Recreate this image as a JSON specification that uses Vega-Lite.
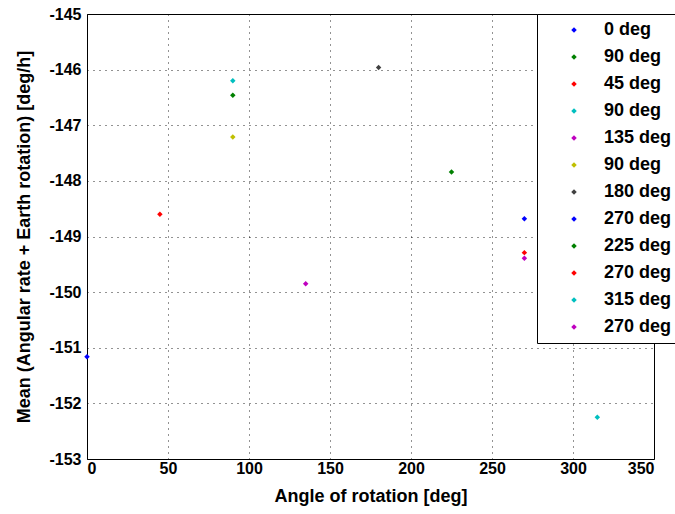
{
  "$schema": "https://vega.github.io/schema/vega-lite/v6.json",
  "autosize": {"type": "none"},
  "width": 567,
  "height": 445,
  "padding": {"left": 87, "top": 14, "right": 21, "bottom": 55},
  "background": "white",
  "config": {
    "view": {"stroke": "#000000", "strokeWidth": 1},
    "font": "Arial",
    "axis": {
      "labelFont": "Arial",
      "labelFontWeight": "bold",
      "labelFontSize": 16,
      "labelColor": "#000000",
      "titleFont": "Arial",
      "titleFontWeight": "bold",
      "titleFontSize": 18,
      "titleColor": "#000000",
      "domain": false,
      "ticks": false,
      "grid": true,
      "gridColor": "#000000",
      "gridDash": [1, 5],
      "gridOpacity": 0.85,
      "gridWidth": 1
    }
  },
  "data": {
    "values": [
      {"angle": 0, "mean": -151.16, "series": "01 0 deg"},
      {"angle": 90, "mean": -146.46, "series": "02 90 deg"},
      {"angle": 45, "mean": -148.6, "series": "03 45 deg"},
      {"angle": 90, "mean": -146.2, "series": "04 90 deg"},
      {"angle": 135, "mean": -149.85, "series": "05 135 deg"},
      {"angle": 90, "mean": -147.21, "series": "06 90 deg"},
      {"angle": 180, "mean": -145.96, "series": "07 180 deg"},
      {"angle": 270, "mean": -148.68, "series": "08 270 deg"},
      {"angle": 225, "mean": -147.84, "series": "09 225 deg"},
      {"angle": 270, "mean": -149.29, "series": "10 270 deg"},
      {"angle": 315, "mean": -152.25, "series": "11 315 deg"},
      {"angle": 270, "mean": -149.39, "series": "12 270 deg"}
    ]
  },
  "mark": {"type": "point", "shape": "diamond", "filled": true, "size": 30, "opacity": 1},
  "encoding": {
    "x": {
      "field": "angle", "type": "quantitative",
      "scale": {"domain": [0, 350], "nice": false, "zero": false},
      "axis": {"values": [0, 50, 100, 150, 200, 250, 300, 350], "title": "Angle of rotation [deg]", "labelPadding": 1, "titlePadding": 11}
    },
    "y": {
      "field": "mean", "type": "quantitative",
      "scale": {"domain": [-153, -145], "nice": false, "zero": false},
      "axis": {"values": [-153, -152, -151, -150, -149, -148, -147, -146, -145], "labelExpr": "datum.value < 0 ? '-' + abs(datum.value) : '' + datum.value", "title": "Mean (Angular rate + Earth rotation) [deg/h]", "labelPadding": 6, "titlePadding": 15}
    },
    "color": {
      "field": "series", "type": "nominal",
      "scale": {
        "domain": ["01 0 deg", "02 90 deg", "03 45 deg", "04 90 deg", "05 135 deg", "06 90 deg", "07 180 deg", "08 270 deg", "09 225 deg", "10 270 deg", "11 315 deg", "12 270 deg"],
        "range": ["#0000ff", "#008000", "#ff0000", "#00bfbf", "#bf00bf", "#bfbf00", "#404040", "#0000ff", "#008000", "#ff0000", "#00bfbf", "#bf00bf"]
      },
      "legend": {
        "orient": "none",
        "legendX": 450,
        "legendY": 0,
        "title": null,
        "labelExpr": "slice(datum.label, 3)",
        "labelFont": "Arial",
        "labelFontWeight": "bold",
        "labelFontSize": 18,
        "labelColor": "#000000",
        "symbolType": "diamond",
        "symbolSize": 30,
        "symbolStrokeWidth": 0,
        "symbolOffset": 21,
        "labelOffset": 21,
        "rowPadding": 9,
        "padding": 7,
        "fillColor": "white",
        "strokeColor": "#000000",
        "cornerRadius": 0,
        "columnPadding": 0,
        "labelLimit": 200
      }
    }
  }
}
